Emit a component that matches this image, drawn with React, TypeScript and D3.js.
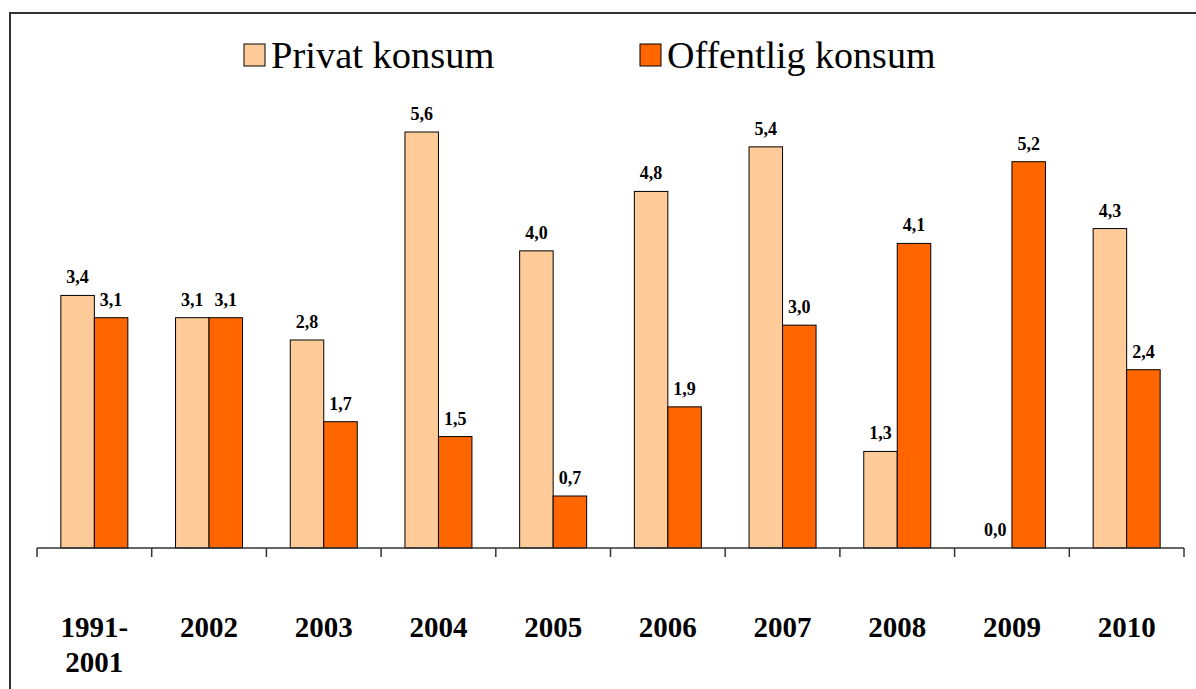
import React from "react";
import * as d3 from "d3";

const categories = ["1991-2001", "2002", "2003", "2004", "2005", "2006", "2007", "2008", "2009", "2010"];
const privatKonsum = [3.4, 3.1, 2.8, 5.6, 4.0, 4.8, 5.4, 1.3, 0.0, 4.3];
const offentligKonsum = [3.1, 3.1, 1.7, 1.5, 0.7, 1.9, 3.0, 4.1, 5.2, 2.4];
const seriesNames = ["Privat konsum", "Offentlig konsum"];
const seriesColors = ["#FFCC99", "#FF6600"];

const W = 1196;
const H = 689;
const baseY = 548;
const font = "Liberation Serif, Times New Roman, serif";
const ts = { fontFamily: font };

export default function App() {
  const x = d3.scaleBand<string>().domain(categories).range([37, 1184]).padding(0);
  const sub = d3
    .scaleBand<string>()
    .domain(["p", "o"])
    .range([0, x.bandwidth()])
    .paddingInner(0)
    .paddingOuter(0.712);
  const y = d3.scaleLinear().domain([0, 5.6]).range([baseY, 132]);
  const fmt = (v: number) => v.toFixed(1).replace(".", ",");
  const series = [privatKonsum, offentligKonsum];
  const keys = ["p", "o"];
  const ticks = categories.map((c) => x(c) as number).concat([x.range()[1]]);

  return (
    <svg
      width={W}
      height={H}
      style={{ position: "absolute", left: 0, top: 0, background: "#fff", fontFamily: font }}
    >
      <rect x={10} y={13} width={1300} height={800} fill="#fff" stroke="#333" strokeWidth={2} />
      {/* Legend */}
      <g>
        <rect x={244} y={44} width={21} height={22} fill={seriesColors[0]} stroke="#000" strokeWidth={1} />
        <text x={271} y={68} fontSize={38.5} fill="#000" style={ts}>{seriesNames[0]}</text>
        <rect x={640} y={44} width={21} height={22} fill={seriesColors[1]} stroke="#000" strokeWidth={1} />
        <text x={667} y={68} fontSize={38} fill="#000" style={ts}>{seriesNames[1]}</text>
      </g>
      {/* Bars */}
      {categories.map((c, i) => (
        <g key={c} transform={`translate(${x(c)},0)`}>
          {series.map((s, k) => {
            const v = s[i];
            const bx = sub(keys[k]) as number;
            const bw = sub.bandwidth();
            return (
              <g key={k}>
                {v > 0 && (
                  <rect
                    x={bx}
                    y={y(v)}
                    width={bw}
                    height={baseY - y(v)}
                    fill={seriesColors[k]}
                    stroke="#000"
                    strokeWidth={1}
                  />
                )}
                <text
                  x={bx + bw / 2}
                  y={y(v) - 12}
                  textAnchor="middle"
                  fontSize={18}
                  fontWeight="bold"
                  fill="#000"
                  style={ts}
                >
                  {fmt(v)}
                </text>
              </g>
            );
          })}
        </g>
      ))}
      {/* Axis */}
      <line x1={37} x2={1184} y1={baseY} y2={baseY} stroke="#333" strokeWidth={1.5} />
      {ticks.map((t, i) => (
        <line key={i} x1={t} x2={t} y1={baseY} y2={baseY + 9} stroke="#333" strokeWidth={1.5} />
      ))}
      {categories.map((c) => {
        const cx = (x(c) as number) + x.bandwidth() / 2;
        const parts = c === "1991-2001" ? ["1991-", "2001"] : [c];
        return (
          <text key={c} x={cx} y={637} textAnchor="middle" fontSize={29} fontWeight="bold" fill="#000" style={ts}>
            {parts.map((p, j) => (
              <tspan key={j} x={cx} dy={j === 0 ? 0 : 35}>
                {p}
              </tspan>
            ))}
          </text>
        );
      })}
    </svg>
  );
}
